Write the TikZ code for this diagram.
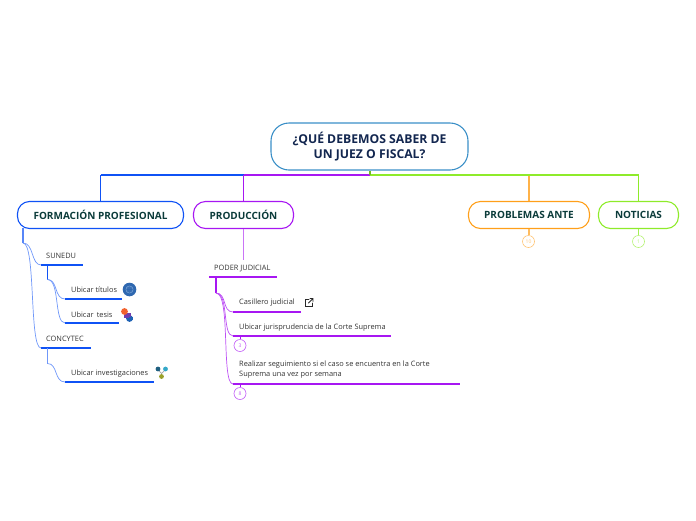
\documentclass[tikz,border=0pt]{standalone}
\usepackage{fontspec}
\setmainfont{Open Sans}
\definecolor{cblue}{HTML}{0F52F5}
\definecolor{cpur}{HTML}{A717F2}
\definecolor{corg}{HTML}{FF9F1A}
\definecolor{cgrn}{HTML}{8EEB2A}
\definecolor{croot}{HTML}{3A8FC7}
\definecolor{cnavy}{HTML}{12264F}
\definecolor{cdk}{HTML}{0B3B3A}
\definecolor{ctxt}{HTML}{333333}
\definecolor{cglobe}{HTML}{2F68B0}
\definecolor{cglobel}{HTML}{7FA6D6}
\definecolor{ctesv}{HTML}{6E3FB0}
\definecolor{ctesb}{HTML}{1F63B5}
\definecolor{cteso}{HTML}{F2622E}
\definecolor{cinvd}{HTML}{1F5F80}
\definecolor{cinvc}{HTML}{35A8C8}
\definecolor{cinvo}{HTML}{9AA02A}
\tikzset{
 x=1pt,y=-1pt,
 rootbox/.style={draw=croot,line width=1.1pt,rounded corners=18pt,minimum width=197pt,minimum height=47pt,inner sep=0pt,align=center,font=\fontsize{12.2}{15.5}\selectfont\bfseries,text=cnavy},
 mainbox/.style={draw=#1,line width=1.1pt,rounded corners=12pt,minimum height=27pt,inner sep=0pt,font=\fontsize{10}{11}\selectfont\bfseries,text=cdk},
 lab/.style={anchor=west,inner sep=0pt,font=\fontsize{7.4}{10}\selectfont,text=ctxt,align=left},
 trunk/.style={line width=1.1pt},
 under/.style={line width=1.8pt},
 branch/.style={line width=.7pt},
 counter/.style={circle,draw=#1,line width=.6pt,minimum size=12pt,inner sep=0pt,font=\fontsize{5}{5}\selectfont,text=#1},
}
\begin{document}
\begin{tikzpicture}
\useasboundingbox (0,0) rectangle (696,520);
% main nodes
\node[rootbox] (root) at (369.5,146.5) {¿QUÉ DEBEMOS SABER DE\\UN JUEZ O FISCAL?};
\node[mainbox=cblue,minimum width=166pt] (fp) at (100.5,215) {FORMACIÓN PROFESIONAL};
\node[mainbox=cpur,minimum width=100pt] (pr) at (243.5,215) {PRODUCCIÓN};
\node[mainbox=corg,minimum width=121pt] (pa) at (529,215) {PROBLEMAS ANTE};
\node[mainbox=cgrn,minimum width=80pt] (no) at (638.5,215) {NOTICIAS};
% root connectors
\coordinate (bus) at (370,175);
\draw[trunk,cblue] (fp.north) -- (bus -| fp.north);
\draw[cblue,line width=1.4pt] (bus -| fp.north) -- (bus -| pr.north);
\draw[trunk,cpur] (pr.north) -- (bus -| pr.north);
\draw[cpur,line width=1.4pt] (bus -| pr.north) -- (bus);
\draw[corg!80!white,line width=1.4pt] (pa.north) -- (bus -| pa.north);
\draw[cgrn,line width=1.4pt] (no.north) -- (bus -| no.north) -- (bus);
\draw[cgrn!80!black,line width=1.4pt] (root.south -| bus) -- (bus);
% counters right
\node[counter=corg!60!white] (c1) at (528.5,241.5) {10};
\node[counter=cgrn!65!white] (c2) at (638.5,241.5) {1};
\draw[trunk,corg!70!white] (pa.south) -- (c1.north -| pa.south);
\draw[trunk,cgrn!80!white] (no.south) -- (c2.north);
% left sub tree
\node[lab] (su) at (46,256) {SUNEDU};
\coordinate (sua) at (41,265); \coordinate (sub) at (83,265);
\node[lab] (ti) at (71,289.5) {Ubicar títulos};
\coordinate (tia) at (65,299); \coordinate (tib) at (122,299);
\node[lab] (te) at (71,314.5) {Ubicar\, tesis};
\coordinate (tea) at (65,323); \coordinate (teb) at (119,323);
\node[lab] (co) at (46,339) {CONCYTEC};
\coordinate (coa) at (41,348); \coordinate (cob) at (91,348);
\node[lab] (inv) at (71,374) {Ubicar investigaciones};
\coordinate (iva) at (65,382); \coordinate (ivb) at (154,382);
\foreach \a/\b in {sua/sub,tia/tib,tea/teb,coa/cob,iva/ivb}
  \draw[under,cblue] (\a) -- (\b);
\coordinate (fr) at (23,228); \coordinate (fr2) at (23,243);
\draw[trunk,cblue!70!white] (fr) -- (fr2);
\draw[branch,cblue!60!white] (fr2) .. controls (34,243) and (31,265) .. (sua);
\draw[branch,cblue!60!white] (fr2) .. controls (36,243) and (29,348) .. (coa);
\coordinate (s1) at (47.5,265); \coordinate (s2) at (47.5,279.5);
\draw[trunk,cblue] (s1) -- (s2);
\draw[branch,cblue!60!white] (s2) .. controls (58,279.5) and (54,299) .. (tia);
\draw[branch,cblue!60!white] (s2) .. controls (60,279.5) and (54,323) .. (tea);
\coordinate (s3) at (47.5,348); \coordinate (s4) at (47.5,363.5);
\draw[cblue!60!white,line width=.8pt] (s3) -- (s4);
\draw[branch,cblue!60!white] (s4) .. controls (58,363.5) and (54,382) .. (iva);
% middle sub tree
\node[lab] (pj) at (214,268.5) {PODER JUDICIAL};
\coordinate (pja) at (209,277); \coordinate (pjb) at (277,277);
\draw[under,cpur] (pja) -- (pjb);
\coordinate (pjt) at (243.5,260);
\draw[cpur!60!white,line width=.7pt] (pr.south) -- (pjt);
\node[lab] (ca) at (239,302.5) {Casillero judicial};
\coordinate (caa) at (233,312); \coordinate (cab) at (301,312);
\node[lab] (ju) at (239,327.5) {Ubicar jurisprudencia de la Corte Suprema};
\coordinate (jua) at (233,336); \coordinate (jub) at (391,336);
\node[lab] (re) at (239,369.5) {Realizar seguimiento si el caso se encuentra en la Corte\\Suprema una vez por semana};
\coordinate (rea) at (233,384); \coordinate (reb) at (460,384);
\foreach \a/\b in {caa/cab,jua/jub,rea/reb}
  \draw[under,cpur] (\a) -- (\b);
\coordinate (p1) at (216,277); \coordinate (p2) at (216,293);
\draw[cpur,line width=1.5pt] (p1) -- (p2);
\draw[branch,cpur!75!white] (p2) .. controls (227,293) and (222,312) .. (caa);
\draw[branch,cpur!75!white] (p2) .. controls (229,293) and (222,336) .. (jua);
\draw[branch,cpur!75!white] (p2) .. controls (231,293) and (221,384) .. (rea);
\node[counter=cpur!70!white] (c3) at (240,345.5) {3};
\node[counter=cpur!70!white] (c4) at (240,393.5) {8};
\draw[branch,cpur] (c3.north) -- (c3.north |- jua);
\draw[branch,cpur] (c4.north) -- (c4.north |- rea);
% icons
\fill[cglobe] (129.5,289.5) circle (6.8);
\draw[cglobel,line width=.45pt] (129.5,289.5) circle (3.6) (126,288) -- (133,288) (126,291) -- (133,291);
\fill[ctesb] (129.5,318.5) circle (3.4);
\fill[ctesb] (128,316.5) rectangle (133,320);
\fill[ctesv] (123.5,312.5) rectangle (131,318);
\fill[ctesb] (129,317) rectangle (133,320);
\fill[cteso] (124.5,311.5) circle (3.4);
\draw[ctxt!80!black,line width=.8pt,line cap=round] (309,299.5) -- (305.5,299.5) -- (305.5,306.5) -- (312.5,306.5) -- (312.5,303);
\draw[ctxt!80!black,line width=.8pt,line cap=round] (308.5,303) -- (313,298.5) (310,298.5) -- (313,298.5) -- (313,301.5);
\draw[gray!70,line width=.7pt] (158,369.5) -- (161.5,373.5) -- (165.5,369.5) (161.5,373.5) -- (161.5,376);
\fill[cinvd] (158,369) circle (2.4);
\fill[cinvc] (165.5,369) circle (2.4);
\fill[cinvo] (161.5,376.5) circle (2.4);
\end{tikzpicture}
\end{document}
